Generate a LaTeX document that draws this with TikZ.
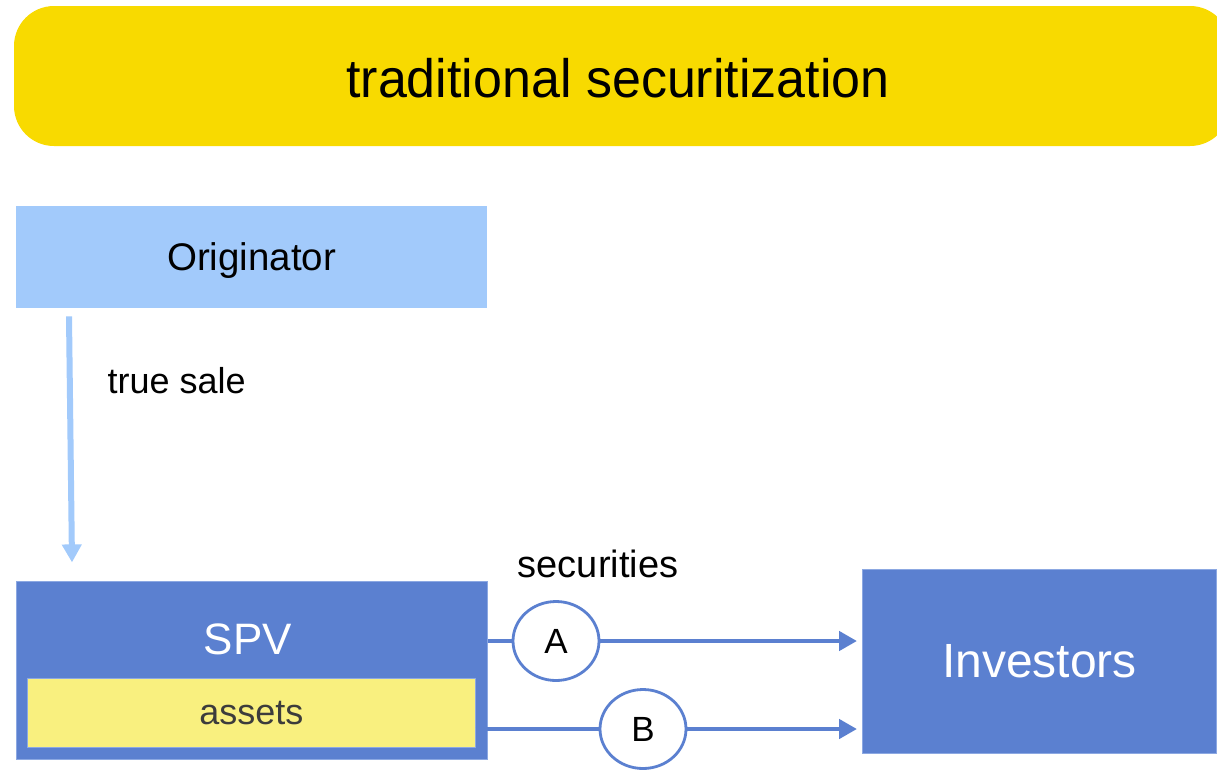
\documentclass[tikz,border=0pt]{standalone}
\usepackage{fontspec}
\setmainfont{Liberation Sans}
\usetikzlibrary{arrows.meta,shapes.geometric}

\definecolor{banner}{HTML}{F8DA00}
\definecolor{origfill}{HTML}{A2CAFB}
\definecolor{spvblue}{HTML}{5B80D0}
\definecolor{spvedge}{HTML}{8CA8E2}
\definecolor{assetfill}{HTML}{F9F07F}
\definecolor{assettext}{HTML}{3C3C3C}

\tikzset{
  x=1pt, y=-1pt,
  fs/.style={font=\fontsize{#1}{#1}\selectfont},
  block/.style={rectangle, inner sep=0pt, anchor=north west},
  flowline/.style={draw=spvblue, line width=4.5pt,
    -{Triangle[length=18pt,width=19pt]}},
  tranche/.style={ellipse, draw=spvblue, line width=2.8pt, fill=white,
    minimum width=86pt, minimum height=79pt, inner sep=0pt, fs=35},
  salearrow/.style={draw=origfill, line width=6pt,
    -{Triangle[length=18pt,width=19pt]}},
}

\begin{document}
\begin{tikzpicture}
\useasboundingbox (0,0) rectangle (1217,769);

% title banner
\fill[banner, rounded corners=40pt] (14,6) rectangle (1230,146);
\node[fs=52, yscale=1.04] (title) at (618,78) {traditional securitization};

% originator
\node[block, fill=origfill, minimum width=471pt, minimum height=102pt]
  (orig) at (16,206) {};
\node[fs=38.5] (origtxt) at ([yshift=-3pt]orig.center) {Originator};

% true sale transfer
\draw[salearrow] (orig.south west) ++(53,8) -- ++(3,246);
\node[fs=36, anchor=west] (truesale) at (104,381) {true sale};

% SPV with its assets
\node[block, fill=spvblue, draw=spvedge, line width=0.8pt,
  minimum width=471pt, minimum height=178pt] (spv) at (16,581) {};
\node[fs=44, text=white] (spvtxt) at (248,639) {SPV};
\node[block, fill=assetfill, draw=spvedge, line width=0.6pt,
  minimum width=448pt, minimum height=69pt] (assets) at (27,678) {};
\node[fs=36, text=assettext] (assetstxt) at (assets.center) {assets};

% investors
\node[block, fill=spvblue, draw=spvedge, line width=0.8pt,
  minimum width=354pt, minimum height=184pt] (inv) at (862,569) {};
\node[fs=48, text=white] (invtxt) at (inv.center) {Investors};

% securities label
\node[fs=38] (sec) at (598,564) {securities};

% tranches
\node[tranche] (a) at (556,641) {A};
\node[tranche] (b) at (643,729) {B};

\draw[draw=spvblue, line width=4.5pt] (spv.east |- a.center) -- (a.west);
\draw[flowline, shorten >=5pt] (a.east) -- (inv.west |- a.center);
\draw[draw=spvblue, line width=4.5pt] (assets.east |- b.center) -- (b.west);
\draw[flowline, shorten >=5pt] (b.east) -- (inv.west |- b.center);
\end{tikzpicture}
\end{document}
